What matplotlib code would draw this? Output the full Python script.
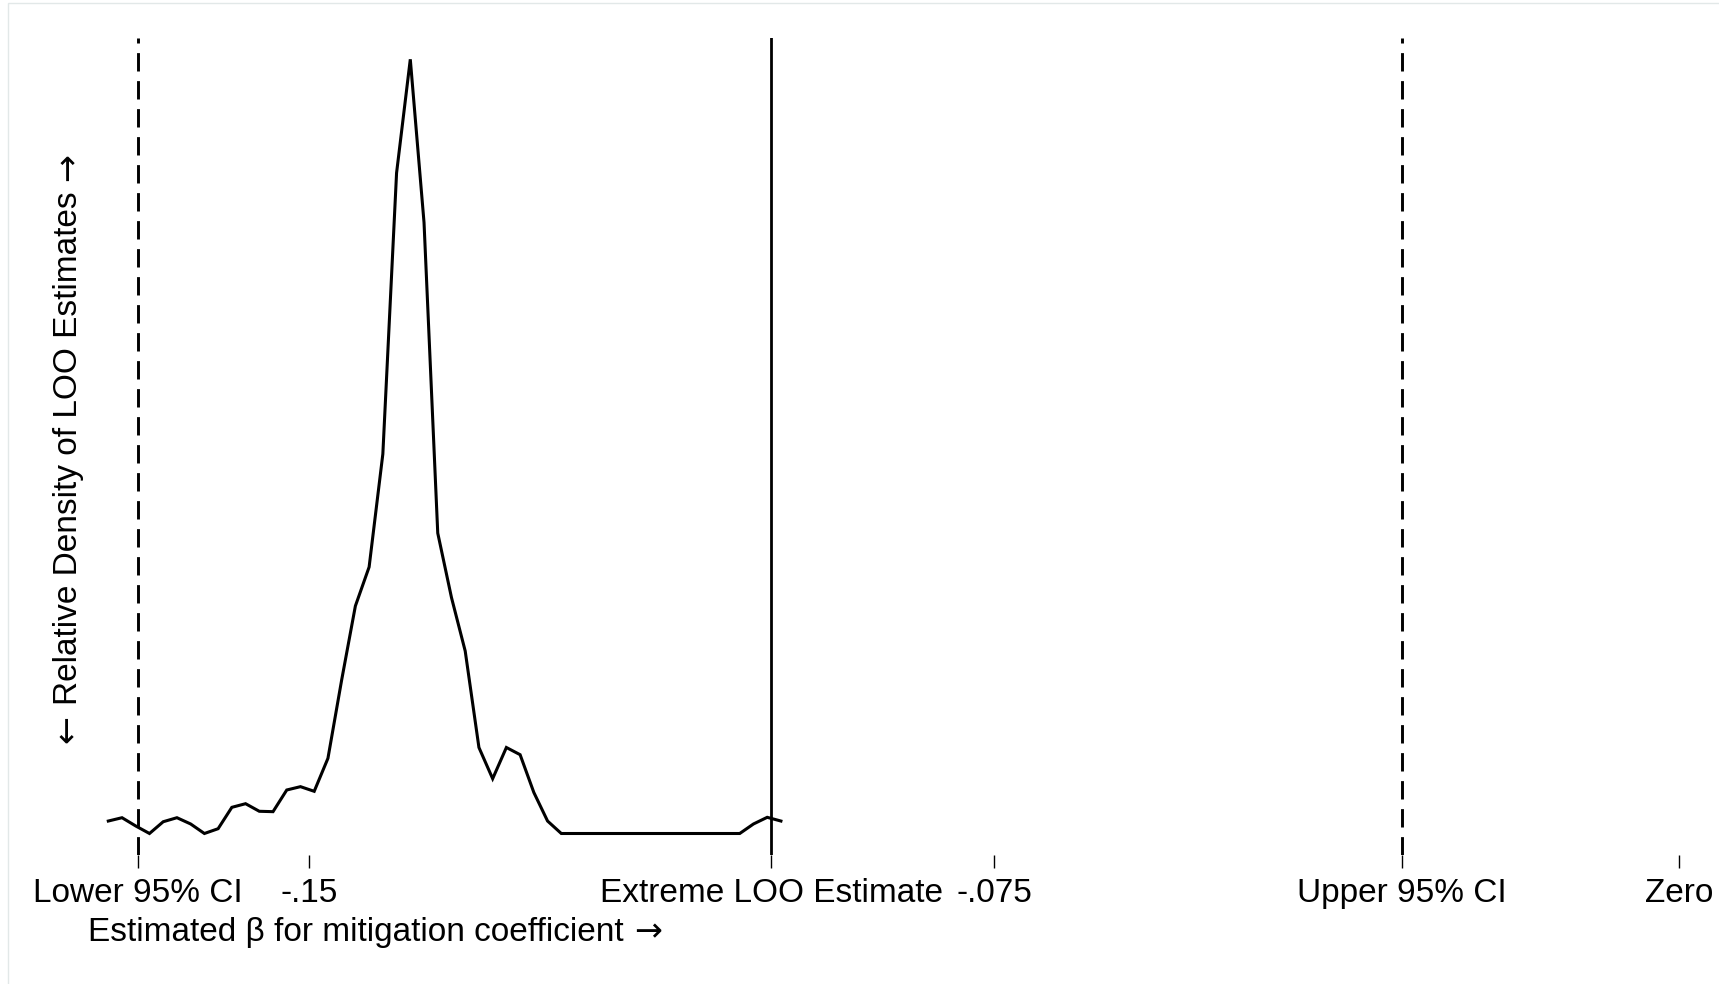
import numpy as np
import matplotlib
matplotlib.use("Agg")
import matplotlib.pyplot as plt
from matplotlib.patches import Rectangle

plt.rcParams['font.family'] = ['Liberation Sans', 'DejaVu Sans']

# leave-one-out estimates of the mitigation coefficient: density curve
beta_start = -0.17198
beta_step = 0.001503
density = [0.0161, 0.0204, 0.0097, 0.0, 0.0152, 0.0204, 0.0123, 0.0, 0.0062, 0.0338,
           0.0385, 0.0287, 0.0282, 0.0562, 0.0605, 0.0545, 0.0971, 0.1983, 0.2939, 0.3442,
           0.4902, 0.8532, 1.0, 0.7892, 0.3880, 0.3048, 0.2357, 0.1111, 0.0708, 0.1111,
           0.1018, 0.0530, 0.0161, 0.0, 0.0, 0.0, 0.0, 0.0, 0.0, 0.0,
           0.0, 0.0, 0.0, 0.0, 0.0, 0.0, 0.0, 0.0123, 0.0209, 0.0161]
beta = [beta_start + beta_step * i for i in range(len(density))]

ci_lower = -0.1687
ci_upper = -0.0303
extreme_loo = -0.0994

tick_pos = [ci_lower, -0.15, extreme_loo, -0.075, ci_upper, 0.0]
tick_labels = ["Lower 95% CI", "-.15", "Extreme LOO Estimate", "-.075", "Upper 95% CI", "Zero"]

xtitle = "Estimated \u03b2 for mitigation coefficient"
ytitle = "Relative Density of LOO Estimates"

W, H = 1719, 984
FS = 24
fig = plt.figure(figsize=(W / 100, H / 100), dpi=100)

# thin grey frame around the graph region
fig.patches.append(Rectangle((8 / W, -0.01), 1.0, 1 - 3 / H + 0.01, transform=fig.transFigure,
                             fill=False, edgecolor='#e2e8e8', lw=1.0))

ax = fig.add_axes([80 / W, (H - 855) / H, 1620 / W, 817 / H])
ax.plot(beta, density, color='black', lw=2.2, solid_joinstyle='miter')

ax.axvline(ci_lower, color='black', lw=2.1, linestyle=(0, (6.3, 3.3)))
ax.axvline(ci_upper, color='black', lw=2.1, linestyle=(0, (6.3, 3.3)))
ax.axvline(extreme_loo, color='black', lw=2.0)

ax.set_xlim(-0.175079, 0.002299)
ax.set_ylim(-0.02777, 1.02751)

for s in ax.spines.values():
    s.set_visible(False)
ax.set_yticks([])
ax.set_xticks(tick_pos)
ax.set_xticklabels(tick_labels, fontsize=FS)
ax.tick_params(axis='x', length=9.4, width=1.0, pad=7.2, color='black')

# axis titles: text in Liberation Sans, arrows taken from DejaVu Sans
renderer = fig.canvas.get_renderer()
gap = 10
tx = fig.text(88 / W, 1 - 941 / H, xtitle, fontsize=FS, ha='left', va='baseline')
bb = tx.get_window_extent(renderer)
fig.text((bb.x1 + gap) / W, 1 - 941 / H, "\u2192", family='DejaVu Sans',
         fontsize=FS, ha='left', va='baseline')

ty = fig.text(77 / W, 1 - 448 / H, ytitle, fontsize=FS, rotation=90,
              rotation_mode='anchor', ha='center', va='baseline')
bb = ty.get_window_extent(renderer)
fig.text(77 / W, (bb.y1 + gap) / H, "\u2192", family='DejaVu Sans', fontsize=FS,
         rotation=90, rotation_mode='anchor', ha='left', va='baseline')
fig.text(77 / W, (bb.y0 - gap) / H, "\u2190", family='DejaVu Sans', fontsize=FS,
         rotation=90, rotation_mode='anchor', ha='right', va='baseline')

fig.savefig("out.png", dpi=100, facecolor='white')
